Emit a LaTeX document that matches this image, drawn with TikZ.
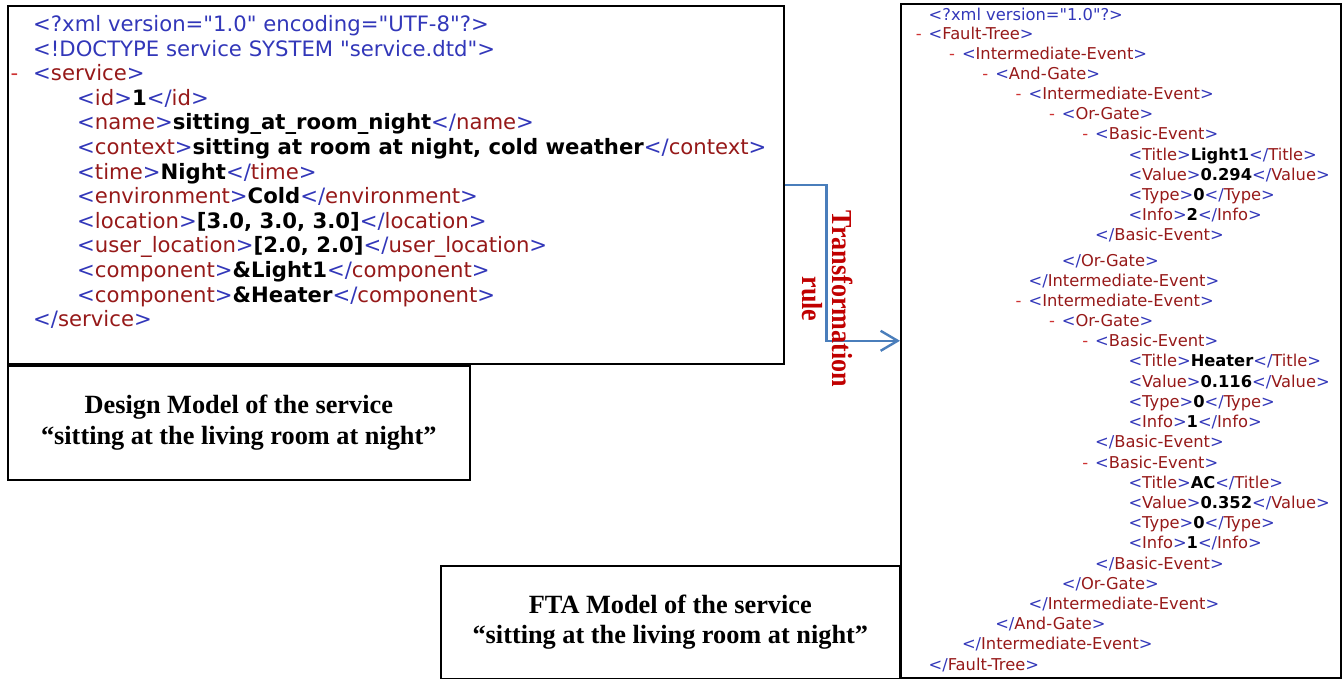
\documentclass[tikz,border=0pt]{standalone}
\usepackage{fontspec}
\usepackage{graphicx}
\setmainfont{Liberation Serif}
\newfontfamily\xmlfont{DejaVu Sans}
\usetikzlibrary{arrows.meta}

\definecolor{xblue}{RGB}{50,55,185}
\definecolor{xred}{RGB}{150,25,25}
\definecolor{xdash}{RGB}{205,50,50}
\definecolor{rulered}{RGB}{192,0,0}
\definecolor{flowblue}{RGB}{74,126,187}

% XML markup helpers: open tag, close tag, element value, collapse marker
\newcommand\xmlo[1]{{\color{xblue}<}{\color{xred}#1}{\color{xblue}>}}
\newcommand\xmlc[1]{{\color{xblue}</}{\color{xred}#1}{\color{xblue}>}}
\newcommand\xmlv[1]{\textbf{#1}}
\newcommand\xmld[1]{\llap{{\color{xdash}-}\hspace{#1}}}

\tikzset{
  box/.style={draw, line width=1.6pt, anchor=north west, inner sep=0pt},
  lx/.style={anchor=base west, inner sep=0pt, font=\xmlfont\fontsize{21.2pt}{25pt}\selectfont},
  rx/.style={anchor=base west, inner sep=0pt, font=\xmlfont\fontsize{16.3pt}{19pt}\selectfont},
  caption/.style={box, align=center, font=\bfseries\fontsize{26.3pt}{30.5pt}\selectfont},
  rulelabel/.style={rotate=-90, align=center, inner sep=0pt, text=rulered,
    font=\bfseries\fontsize{29pt}{30pt}\selectfont},
  flow/.style={draw=flowblue, line width=2.4pt,
    -{Straight Barb[length=17pt, width=20pt, line width=2.4pt]}}
}

\begin{document}
\begin{tikzpicture}[x=1pt, y=-1pt]
\useasboundingbox (0,0) rectangle (1344,679);

% frames
\node[box, minimum width=776pt, minimum height=358pt] (svcXml) at (7,5) {};
\node[caption, minimum width=462pt, minimum height=114pt] (svcCap) at (7,365)
  {Design Model of the service\\“sitting at the living room at night”};
\node[box, minimum width=440pt, minimum height=674pt] (ftaXml) at (900,3) {};
\node[caption, minimum width=459pt, minimum height=113pt] (ftaCap) at (440,565)
  {FTA Model of the service\\“sitting at the living room at night”};

% service design model (XML)
\node[lx] (l0) at (33,31.5) {\color{xblue}<?xml version="1.0" encoding="UTF-8"?>};
\node[lx] (l1) at (33,56.1) {\color{xblue}<!DOCTYPE service SYSTEM "service.dtd">};
\node[lx] (l2) at (33,80.7) {\xmld{15pt}\xmlo{service}};
\node[lx] (l3) at (77,105.3) {\xmlo{id}\xmlv{1}\xmlc{id}};
\node[lx] (l4) at (77,129.9) {\xmlo{name}\xmlv{sitting\_at\_room\_night}\xmlc{name}};
\node[lx] (l5) at (77,154.5) {\xmlo{context}\xmlv{sitting at room at night, cold weather}\xmlc{context}};
\node[lx] (l6) at (77,179.1) {\xmlo{time}\xmlv{Night}\xmlc{time}};
\node[lx] (l7) at (77,203.7) {\xmlo{environment}\xmlv{Cold}\xmlc{environment}};
\node[lx] (l8) at (77,228.3) {\xmlo{location}\xmlv{[3.0, 3.0, 3.0]}\xmlc{location}};
\node[lx] (l9) at (77,252.9) {\xmlo{user\_location}\xmlv{[2.0, 2.0]}\xmlc{user\_location}};
\node[lx] (l10) at (77,277.5) {\xmlo{component}\xmlv{\&Light1}\xmlc{component}};
\node[lx] (l11) at (77,302.1) {\xmlo{component}\xmlv{\&Heater}\xmlc{component}};
\node[lx] (l12) at (33,326.7) {\xmlc{service}};

% fault tree model (XML)
\node[rx] (r0) at (928.5,20.7) {\color{xblue}<?xml version="1.0"?>};
\node[rx] (r1) at (928.5,39.7) {\xmld{7pt}\xmlo{Fault-Tree}};
\node[rx] (r2) at (961.8,59.7) {\xmld{7pt}\xmlo{Intermediate-Event}};
\node[rx] (r3) at (995.1,79.7) {\xmld{7pt}\xmlo{And-Gate}};
\node[rx] (r4) at (1028.4,99.7) {\xmld{7pt}\xmlo{Intermediate-Event}};
\node[rx] (r5) at (1061.7,119.7) {\xmld{7pt}\xmlo{Or-Gate}};
\node[rx] (r6) at (1095,139.7) {\xmld{7pt}\xmlo{Basic-Event}};
\node[rx] (r7) at (1128.3,160.7) {\xmlo{Title}\xmlv{Light1}\xmlc{Title}};
\node[rx] (r8) at (1128.3,180.7) {\xmlo{Value}\xmlv{0.294}\xmlc{Value}};
\node[rx] (r9) at (1128.3,200.7) {\xmlo{Type}\xmlv{0}\xmlc{Type}};
\node[rx] (r10) at (1128.3,220.7) {\xmlo{Info}\xmlv{2}\xmlc{Info}};
\node[rx] (r11) at (1095,240.7) {\xmlc{Basic-Event}};
\node[rx] (r12) at (1061.7,266.7) {\xmlc{Or-Gate}};
\node[rx] (r13) at (1028.4,286.7) {\xmlc{Intermediate-Event}};
\node[rx] (r14) at (1028.4,306.7) {\xmld{7pt}\xmlo{Intermediate-Event}};
\node[rx] (r15) at (1061.7,326.7) {\xmld{7pt}\xmlo{Or-Gate}};
\node[rx] (r16) at (1095,346.7) {\xmld{7pt}\xmlo{Basic-Event}};
\node[rx] (r17) at (1128.3,366.7) {\xmlo{Title}\xmlv{Heater}\xmlc{Title}};
\node[rx] (r18) at (1128.3,387.7) {\xmlo{Value}\xmlv{0.116}\xmlc{Value}};
\node[rx] (r19) at (1128.3,407.7) {\xmlo{Type}\xmlv{0}\xmlc{Type}};
\node[rx] (r20) at (1128.3,427.7) {\xmlo{Info}\xmlv{1}\xmlc{Info}};
\node[rx] (r21) at (1095,447.7) {\xmlc{Basic-Event}};
\node[rx] (r22) at (1095,468.7) {\xmld{7pt}\xmlo{Basic-Event}};
\node[rx] (r23) at (1128.3,488.7) {\xmlo{Title}\xmlv{AC}\xmlc{Title}};
\node[rx] (r24) at (1128.3,508.7) {\xmlo{Value}\xmlv{0.352}\xmlc{Value}};
\node[rx] (r25) at (1128.3,528.7) {\xmlo{Type}\xmlv{0}\xmlc{Type}};
\node[rx] (r26) at (1128.3,548.7) {\xmlo{Info}\xmlv{1}\xmlc{Info}};
\node[rx] (r27) at (1095,569.7) {\xmlc{Basic-Event}};
\node[rx] (r28) at (1061.7,589.7) {\xmlc{Or-Gate}};
\node[rx] (r29) at (1028.4,609.7) {\xmlc{Intermediate-Event}};
\node[rx] (r30) at (995.1,629.7) {\xmlc{And-Gate}};
\node[rx] (r31) at (961.8,649.7) {\xmlc{Intermediate-Event}};
\node[rx] (r32) at (928.5,670.7) {\xmlc{Fault-Tree}};

% transformation connector and its label
\draw[flow] (svcXml.east) -- ++(42,0) |- (ftaXml.west);
\node[rulelabel] (rule) at (828,299)
  {\scalebox{0.9}[1]{Transformation}\\\scalebox{0.9}[1]{rule}};
\end{tikzpicture}
\end{document}
